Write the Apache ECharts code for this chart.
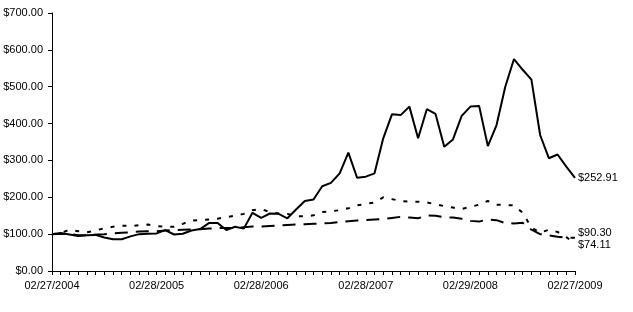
<!DOCTYPE html>
<html>
<head>
<meta charset="utf-8">
<script src="https://cdn.jsdelivr.net/npm/echarts@6/dist/echarts.min.js"></script>
<style>
  html, body { margin: 0; padding: 0; background: #fff; }
  #main { width: 633px; height: 312px; }
</style>
</head>
<body>
<div id="main"></div>
<script>
// month-end dates, Feb 2004 .. Feb 2009
var dates = [
  '02/27/2004','03/31/2004','04/30/2004','05/28/2004','06/30/2004','07/30/2004','08/31/2004','09/30/2004','10/29/2004','11/30/2004','12/31/2004',
  '01/31/2005','02/28/2005','03/31/2005','04/29/2005','05/31/2005','06/30/2005','07/29/2005','08/31/2005','09/30/2005','10/31/2005','11/30/2005','12/30/2005',
  '01/31/2006','02/28/2006','03/31/2006','04/28/2006','05/31/2006','06/30/2006','07/31/2006','08/31/2006','09/29/2006','10/31/2006','11/30/2006','12/29/2006',
  '01/31/2007','02/28/2007','03/30/2007','04/30/2007','05/31/2007','06/29/2007','07/31/2007','08/31/2007','09/28/2007','10/31/2007','11/30/2007','12/31/2007',
  '01/31/2008','02/29/2008','03/31/2008','04/30/2008','05/30/2008','06/30/2008','07/31/2008','08/29/2008','09/30/2008','10/31/2008','11/28/2008','12/31/2008',
  '01/30/2009','02/27/2009'
];

// solid line
var company = [100, 103, 99, 95, 97, 98, 91, 86, 86, 94,
  100, 101, 102, 111, 99, 101, 110, 114, 130, 130,
  111, 120, 115, 158, 144, 156, 155, 143, 167, 190,
  194, 230, 239, 265, 321, 253, 256, 265, 360, 425,
  423, 446, 360, 439, 426, 337, 357, 421, 446, 448,
  339, 396, 500, 575, 546, 519, 369, 306, 316, 283,
  252.91];

// long dashes
var indexA = [100, 101, 100, 97, 97, 99, 100, 102, 104, 105,
  107, 108, 108, 110, 111, 112, 113, 113, 115, 117,
  117, 117, 119, 121, 121, 122, 123, 125, 126, 127,
  128, 129, 130, 133, 135, 137, 138, 140, 141, 144,
  147, 145, 143, 151, 150, 146, 145, 142, 136, 134,
  140, 138, 130, 129, 131, 112, 100, 97, 93, 90,
  90.30];

// short dashes
var indexB = [100, 103, 112, 108, 105, 110, 116, 120, 123, 122,
  124, 126, 122, 120, 120, 128, 137, 138, 140, 142,
  146, 150, 155, 165, 168, 160, 156, 155, 149, 148,
  151, 160, 162, 165, 170, 178, 182, 186, 200, 195,
  190, 188, 188, 186, 181, 176, 172, 168, 174, 180,
  190, 180, 179, 178, 158, 118, 104, 112, 106, 92,
  74.11];

var endTexts = ['$252.91', '$90.30', '$74.11'];

var font = 'Arial, "Liberation Sans", sans-serif';

var myChart = echarts.init(document.getElementById('main'));

function endLabel(text, dy) {
  return {
    show: true,
    formatter: text,
    color: '#000',
    fontSize: 11,
    fontFamily: font,
    distance: 3,
    offset: [0, dy]
  };
}

var option = {
  animation: false,
  backgroundColor: '#fff',
  grid: { left: 52, right: 58, top: 13, bottom: 41 },
  xAxis: {
    type: 'category',
    data: dates,
    boundaryGap: false,
    axisLine: { lineStyle: { color: '#000', width: 1 } },
    axisTick: { interval: 0, length: 4, lineStyle: { color: '#000' } },
    axisLabel: {
      interval: 11,
      margin: 9,
      color: '#000',
      fontSize: 11,
      fontFamily: font,
      formatter: function (v) { return v; }
    },
    splitLine: { show: false }
  },
  yAxis: {
    type: 'value',
    min: 0,
    max: 700,
    interval: 100,
    axisLine: { show: true, lineStyle: { color: '#000', width: 1 } },
    axisTick: { show: true, length: 4, lineStyle: { color: '#000' } },
    axisLabel: {
      margin: 9,
      color: '#000',
      fontSize: 11,
      fontFamily: font,
      formatter: function (v) { return '$' + v.toFixed(2); }
    },
    splitLine: { show: false }
  },
  series: [
    {
      type: 'line',
      data: company,
      symbol: 'none',
      lineStyle: { color: '#000', width: 2 },
      endLabel: endLabel(endTexts[0], 0)
    },
    {
      type: 'line',
      data: indexA,
      symbol: 'none',
      lineStyle: { color: '#000', width: 2, type: [13, 8] },
      endLabel: endLabel(endTexts[1], -5)
    },
    {
      type: 'line',
      data: indexB,
      symbol: 'none',
      lineStyle: { color: '#000', width: 2, type: [4, 8] },
      endLabel: endLabel(endTexts[2], 1)
    }
  ]
};

myChart.setOption(option);
</script>
</body>
</html>
